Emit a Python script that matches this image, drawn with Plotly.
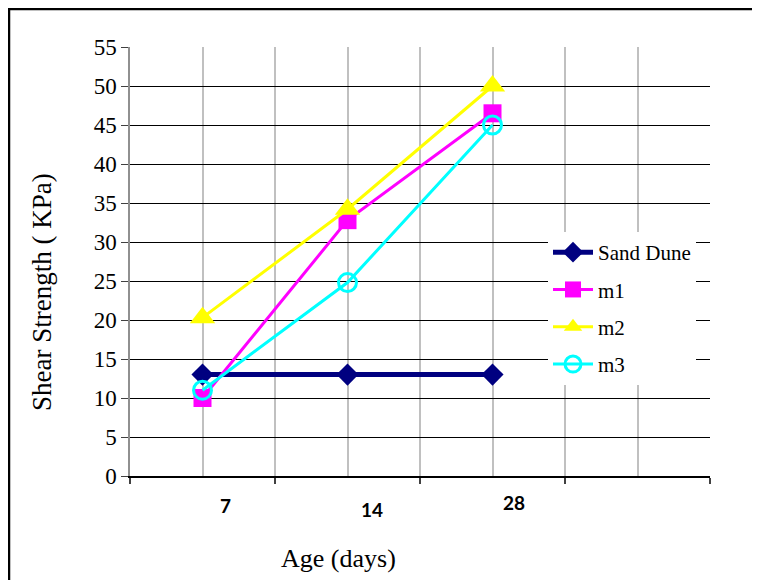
import plotly.graph_objects as go

# ---- data ----
ages = ["7", "14", "28"]
sand_dune = [13, 13, 13]
m1 = [10, 32.8, 46.5]
m2 = [20.3, 34.2, 50]
m3 = [11, 24.8, 45]
y_ticks = list(range(0, 56, 5))

x_pos = [2 * i + 1 for i in range(len(ages))]

series = [
    ("Sand Dune", sand_dune, "#000080", "diamond", 17, 5),
    ("m1", m1, "#FF00FF", "square", 18, 3),
    ("m2", m2, "#FFFF00", "triangle-up", 22, 3),
    ("m3", m3, "#00FFFF", "circle-open", 18, 3),
]

SERIF = "Times New Roman"

fig = go.Figure()
for i, (name, vals, col, sym, msize, lw) in enumerate(series):
    marker = dict(symbol=sym, size=msize, color=col)
    if sym == "circle-open":
        marker["line"] = dict(color=col, width=3)
    fig.add_trace(go.Scatter(
        x=x_pos, y=vals, name=name, mode="lines+markers",
        line=dict(color=col, width=lw), marker=marker,
        legendgroup=f"g{i}",
    ))

# page offset (body margin) of 8px
OFF = 8
W, H = 760, 580
L = 130 - OFF
T = 47 - OFF
R = W - (710 - OFF)
B = H - (476 - OFF)
pw, ph = W - L - R, H - T - B

def px_x(px):
    return (px - OFF - L) / pw

def px_y(py):
    return (H - B - (py - OFF)) / ph

fig.update_layout(
    width=W, height=H,
    margin=dict(l=L, r=R, t=T, b=B),
    paper_bgcolor="white", plot_bgcolor="white",
    font=dict(family=SERIF, color="black", size=20),
    showlegend=True,
    legend=dict(
        x=px_x(548), y=px_y(232), xanchor="left", yanchor="top",
        bgcolor="white", borderwidth=0,
        font=dict(family=SERIF, size=21, color="black"),
        traceorder="grouped", tracegroupgap=7,
        itemwidth=40,
    ),
    xaxis=dict(
        range=[0, 8], tickvals=[0, 2, 4, 6, 8], showticklabels=False,
        ticks="outside", ticklen=6, tickcolor="#404040", tickwidth=1.5,
        showline=True, linecolor="black", linewidth=1.5,
        showgrid=True, gridcolor="#c0c0c0", gridwidth=1.5,
        zeroline=False,
        minor=dict(dtick=1, tick0=0, showgrid=True, gridcolor="#c0c0c0", gridwidth=1.5, ticks=""),
    ),
    yaxis=dict(
        range=[0, 55], tickvals=y_ticks, ticks="outside", ticklen=7,
        tickcolor="#404040", tickwidth=1.2,
        tickfont=dict(family=SERIF, size=23, color="black"),
        showline=True, linecolor="#909090", linewidth=1.5,
        showgrid=True, gridcolor="black", gridwidth=1.2,
        zeroline=False,
    ),
)

annotations = []
label_offsets_x = [0.32, 0.34, 0.29]
label_px_y = [505, 509, 502]
for i, lab in enumerate(ages):
    annotations.append(dict(
        x=x_pos[i] + label_offsets_x[i], y=px_y(label_px_y[i]),
        xref="x", yref="paper", text=f"<b>{lab}</b>", showarrow=False,
        font=dict(family="Lato", size=19, color="black"),
        xanchor="center", yanchor="middle",
    ))
annotations.append(dict(
    x=px_x(338), y=px_y(558), xref="paper", yref="paper",
    text="Age (days)", showarrow=False,
    font=dict(family=SERIF, size=26, color="black"),
    xanchor="center", yanchor="middle",
))
annotations.append(dict(
    x=px_x(42), y=px_y(292), xref="paper", yref="paper",
    text="Shear Strength ( KPa)", showarrow=False, textangle=-90,
    font=dict(family=SERIF, size=27, color="black"),
    xanchor="center", yanchor="middle",
))
fig.update_layout(annotations=annotations)

# outer chart frame (top and left edges visible)
fig.add_shape(type="rect", xref="paper", yref="paper",
              x0=px_x(9), x1=px_x(780), y0=px_y(600), y1=px_y(9),
              line=dict(color="black", width=2.5), layer="above")

fig.write_html("out.html")
